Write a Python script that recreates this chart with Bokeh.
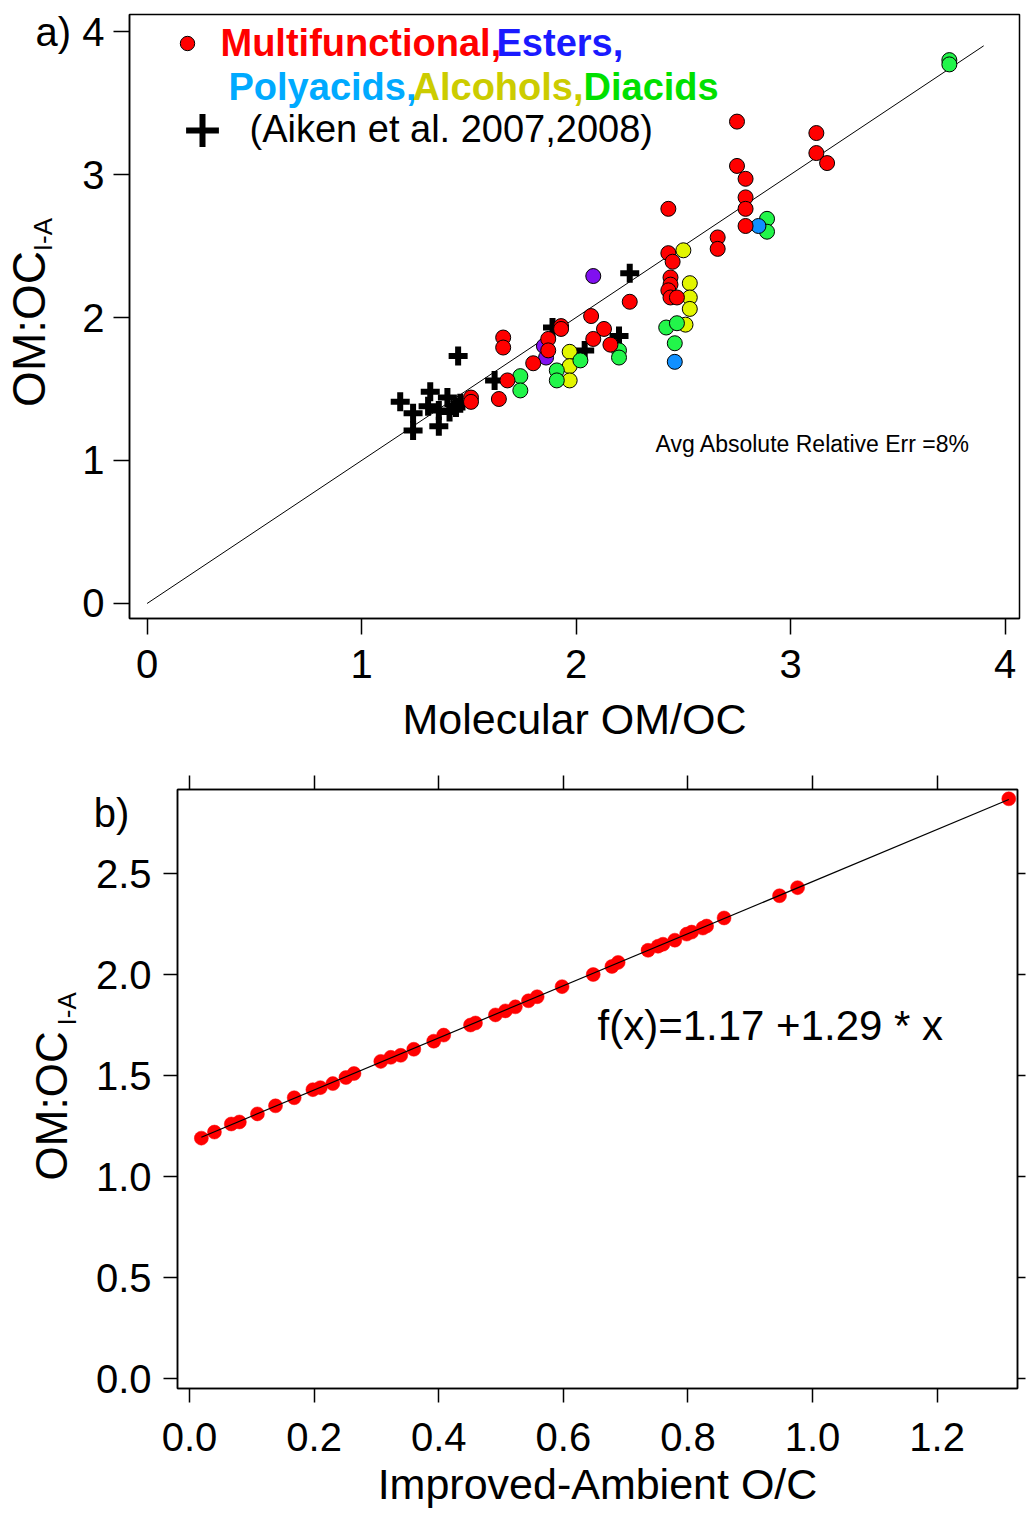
from bokeh.plotting import figure
from bokeh.models import (Range1d, FixedTicker, LinearAxis, Label, Legend, LegendItem,
                          PrintfTickFormatter)
from bokeh.embed import file_html
from bokeh.resources import INLINE

FONT = "Liberation Sans"

# ---------------- Panel a data ----------------
multi_x = [1.51, 1.51, 1.64, 1.66, 1.66, 1.68, 1.80, 1.87, 1.87, 1.93, 1.93, 2.07, 2.13, 2.08, 2.16,
           2.25, 2.43, 2.43, 2.45, 2.44, 2.44, 2.43, 2.44, 2.47, 2.66, 2.66, 2.75, 2.75, 2.79, 2.79,
           2.79, 2.79, 3.12, 3.12, 3.17]
multi_y = [1.44, 1.41, 1.43, 1.86, 1.79, 1.56, 1.68, 1.85, 1.77, 1.94, 1.92, 2.01, 1.92, 1.85, 1.81,
           2.11, 2.76, 2.45, 2.39, 2.28, 2.23, 2.19, 2.14, 2.14, 2.56, 2.48, 3.37, 3.06, 2.97, 2.84,
           2.76, 2.64, 3.29, 3.15, 3.08]
esters_x = [2.08, 1.86, 1.85]
esters_y = [2.29, 1.72, 1.80]
polyacids_x = [2.85, 2.46]
polyacids_y = [2.64, 1.69]
alcohols_x = [2.50, 2.53, 2.53, 2.53, 2.51, 1.97, 1.97, 1.97]
alcohols_y = [2.47, 2.24, 2.14, 2.06, 1.95, 1.76, 1.66, 1.56]
diacids_x = [3.74, 3.74, 2.89, 2.89, 2.42, 2.47, 2.46, 1.74, 1.74, 1.91, 1.91, 2.02, 2.20, 2.20]
diacids_y = [3.80, 3.77, 2.69, 2.60, 1.93, 1.96, 1.82, 1.59, 1.49, 1.63, 1.56, 1.70, 1.77, 1.72]
aiken_x = [1.18, 1.24, 1.24, 1.32, 1.31, 1.36, 1.36, 1.40, 1.41, 1.44, 1.46, 1.45, 1.62, 1.89,
           2.04, 2.20, 2.25]
aiken_y = [1.41, 1.33, 1.21, 1.48, 1.38, 1.35, 1.24, 1.44, 1.34, 1.37, 1.40, 1.73, 1.56, 1.93,
           1.77, 1.87, 2.31]
one_to_one = [0.0, 3.9]
a_ticks = [0, 1, 2, 3, 4]
a_xlabel = "Molecular OM/OC"
a_err_text = "Avg Absolute Relative Err =8%"

# ---------------- Panel b data ----------------
oc_x = [0.019, 0.040, 0.067, 0.080, 0.109, 0.138, 0.168, 0.198, 0.210, 0.230, 0.251, 0.264,
        0.307, 0.323, 0.339, 0.360, 0.392, 0.408, 0.451, 0.459, 0.491, 0.507, 0.523, 0.544,
        0.558, 0.598, 0.648, 0.678, 0.688, 0.736, 0.752, 0.760, 0.779, 0.798, 0.806, 0.824,
        0.830, 0.858, 0.947, 0.976, 1.315]
omoc_y = [1.19, 1.22, 1.26, 1.27, 1.31, 1.35, 1.39, 1.43, 1.44, 1.46, 1.49, 1.51,
          1.57, 1.59, 1.60, 1.63, 1.67, 1.70, 1.75, 1.76, 1.80, 1.82, 1.84, 1.87,
          1.89, 1.94, 2.00, 2.04, 2.06, 2.12, 2.14, 2.15, 2.17, 2.20, 2.21, 2.23,
          2.24, 2.28, 2.39, 2.43, 2.87]
fit_intercept = 1.17
fit_slope = 1.29
fit_x = [0.019, 1.315]
fit_y = [fit_intercept + fit_slope * v for v in fit_x]
b_xticks = [0.0, 0.2, 0.4, 0.6, 0.8, 1.0, 1.2]
b_yticks = [0.0, 0.5, 1.0, 1.5, 2.0, 2.5]
b_xlabel = "Improved-Ambient O/C"

# vertical anchor positions (in data units) of the texts placed beside the y axes
A_TITLE_Y, A_SUB_Y = 1.92, 2.58
B_TAG_Y, B_TITLE_Y, B_SUB_Y = 2.8, 1.35, 1.83


def label(p, x, y, text, size, color="black", style="normal", align="left"):
    p.add_layout(Label(x=x, y=y, x_units="screen", y_units="screen", text=text,
                       text_font=FONT, text_font_size=f"{size}px", text_color=color,
                       text_font_style=style, text_align=align, text_baseline="middle"))


def style_axis(ax, tick_out, font_size, standoff, line=True, ticks=True):
    ax.axis_line_width = 1.5
    ax.axis_line_color = "black" if line else None
    ax.major_tick_line_width = 1.5
    ax.major_tick_line_color = "black" if ticks else None
    ax.major_tick_out = tick_out
    ax.major_tick_in = 0
    ax.minor_tick_line_color = None
    ax.major_label_text_font = FONT
    ax.major_label_text_font_size = f"{font_size}px"
    ax.major_label_text_color = "black"
    ax.major_label_standoff = standoff
    ax.axis_label_text_font = FONT
    ax.axis_label_text_font_style = "normal"
    ax.axis_label_text_color = "black"


def text_axis(p, pos, text, size, standoff):
    ax = LinearAxis(ticker=FixedTicker(ticks=[pos]), major_label_overrides={pos: text},
                    major_label_orientation="vertical")
    style_axis(ax, 0, size, standoff, line=False, ticks=False)
    p.add_layout(ax, "left")


def hidden_label_axis(ax, ticks):
    ax.major_label_overrides = {t: "" for t in ticks}
    ax.major_label_text_font_size = "0px"
    ax.major_label_text_color = None
    ax.major_label_standoff = 0


# ================= Panel a =================
pa = figure(width=1029, height=746, x_range=Range1d(-0.082, 4.067),
            y_range=Range1d(-0.105, 4.119), output_backend="svg", toolbar_location=None,
            min_border_left=129, min_border_right=10, min_border_top=14, min_border_bottom=128)
pa.grid.visible = False
pa.outline_line_color = "black"
pa.outline_line_width = 1.5

pa.xaxis.ticker = FixedTicker(ticks=a_ticks)
pa.yaxis.ticker = FixedTicker(ticks=a_ticks)
style_axis(pa.xaxis[0], 16, 40, 15)
style_axis(pa.yaxis[0], 16, 40, 9)
pa.yaxis.major_label_overrides = {4: "a) 4"}
pa.xaxis.axis_label = a_xlabel
pa.xaxis.axis_label_text_font_size = "43px"
pa.xaxis.axis_label_standoff = 14
text_axis(pa, A_SUB_Y, "I-A", 26, -26)
text_axis(pa, A_TITLE_Y, "OM:OC", 46, -30)

pa.line(one_to_one, one_to_one, line_color="black", line_width=1)

r_aiken = pa.scatter(aiken_x, aiken_y, marker="cross", size=19, line_color="black", line_width=6)
pa.scatter(alcohols_x, alcohols_y, size=15, fill_color="#E2F500", line_color="black", line_width=1)
pa.scatter(diacids_x, diacids_y, size=15, fill_color="#22F54A", line_color="black", line_width=1)
pa.scatter(polyacids_x, polyacids_y, size=15, fill_color="#1090FF", line_color="black", line_width=1)
pa.scatter(esters_x, esters_y, size=15, fill_color="#8010F0", line_color="black", line_width=1)
r_multi = pa.scatter(multi_x, multi_y, size=15, fill_color="#FF0000", line_color="black", line_width=1)

for rend, gsize, loc in [(r_multi, 36, (40, 557)), (r_aiken, 82, (32, 447))]:
    leg = Legend(items=[LegendItem(label=" ", renderers=[rend])], location=loc,
                 glyph_width=gsize, glyph_height=gsize, padding=0, margin=0, spacing=0,
                 border_line_color=None, background_fill_alpha=0, label_text_font_size="10px",
                 label_height=10, label_width=1, label_standoff=0)
    pa.add_layout(leg)

label(pa, 91, 576, "Multifunctional,", 38, color="#FF0000", style="bold")
label(pa, 367, 576, "Esters,", 38, color="#1A1AFF", style="bold")
label(pa, 99, 532, "Polyacids,", 38, color="#00AAFF", style="bold")
label(pa, 283, 532, "Alcohols,", 38, color="#CCCC00", style="bold")
label(pa, 454, 532, "Diacids", 38, color="#00E000", style="bold")
label(pa, 120, 490, "(Aiken et al. 2007,2008)", 38)
label(pa, 526, 175, a_err_text, 23)

# ================= Panel b =================
pb = figure(width=1029, height=764, x_range=Range1d(-0.0193, 1.329),
            y_range=Range1d(-0.0495, 2.916), output_backend="svg", toolbar_location=None,
            min_border_left=177, min_border_right=12, min_border_top=43, min_border_bottom=122)
pb.grid.visible = False
pb.outline_line_color = "black"
pb.outline_line_width = 1.5

pb.xaxis.ticker = FixedTicker(ticks=b_xticks)
pb.xaxis.formatter = PrintfTickFormatter(format="%.1f")
style_axis(pb.xaxis[0], 14, 40, 20)
pb.xaxis.axis_label = b_xlabel
pb.xaxis.axis_label_text_font_size = "43px"
pb.xaxis.axis_label_standoff = 6

# left: tick marks only (adjacent to frame)
pb.yaxis.ticker = FixedTicker(ticks=b_yticks)
style_axis(pb.yaxis[0], 14, 40, 0)
hidden_label_axis(pb.yaxis[0], b_yticks)

# left: tick labels plus the panel tag
lab_ax = LinearAxis(ticker=FixedTicker(ticks=b_yticks + [B_TAG_Y]),
                    formatter=PrintfTickFormatter(format="%.1f"),
                    major_label_overrides={B_TAG_Y: "b)\u00a0\u00a0"})
style_axis(lab_ax, 0, 40, 12, line=False, ticks=False)
pb.add_layout(lab_ax, "left")
text_axis(pb, B_SUB_Y, "I-A", 26, 8)
text_axis(pb, B_TITLE_Y, "OM:OC", 44, -27)

top_ax = LinearAxis(ticker=FixedTicker(ticks=b_xticks))
style_axis(top_ax, 14, 0, 0)
hidden_label_axis(top_ax, b_xticks)
pb.add_layout(top_ax, "above")
right_ax = LinearAxis(ticker=FixedTicker(ticks=b_yticks))
style_axis(right_ax, 8, 0, 0)
hidden_label_axis(right_ax, b_yticks)
pb.add_layout(right_ax, "right")

pb.scatter(oc_x, omoc_y, size=14, fill_color="#FF0000", line_color="#FF0000", line_width=0.5)
pb.line(fit_x, fit_y, line_color="black", line_width=1.2)

label(pb, 420, 363, f"f(x)={fit_intercept} +{fit_slope} * x", 42)

open("out.html", "w").write(file_html([pa, pb], INLINE))
